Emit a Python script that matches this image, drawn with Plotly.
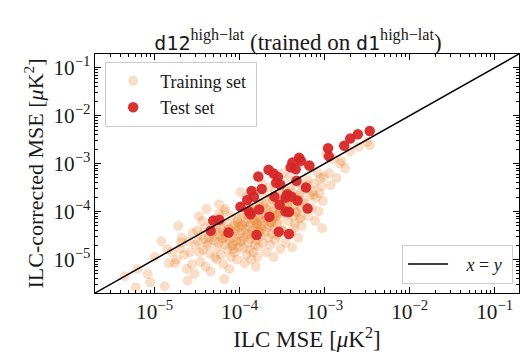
import plotly.graph_objects as go

# MSE values, stored as log10 exponents
train_ilc_log10 = [
    -5.2, -5.08, -5.05, -4.88, -4.83, -4.76, -4.85, -4.61, -4.18, -5.0, -4.92, -4.8, -5.35, -5.22,
    -4.72, -4.55, -4.68, -4.6, -4.52, -4.7, -4.58, -4.65, -4.74, -4.56, -4.62, -4.5, -4.69, -4.53,
    -4.48, -4.33, -4.41, -4.27, -4.45, -4.36, -4.3, -4.49, -4.38, -4.26,
    -4.43, -4.35, -4.29, -4.46, -4.4, -4.32, -4.28, -4.44, -4.37, -4.31,
    -4.47, -4.34, -4.39, -4.27, -4.42,
    -4.24, -4.18, -4.1, -4.03, -4.21, -4.15, -4.07, -4.01, -4.22, -4.13,
    -4.05, -4.19, -4.11, -4.02, -4.23, -4.16, -4.08, -4.2, -4.12, -4.04,
    -4.25, -4.17, -4.09, -4.01, -4.14, -4.06, -4.22, -4.1, -4.03, -4.19,
    -4.12, -4.05, -4.24, -4.15, -4.08, -4.02, -4.2, -4.13, -4.07, -4.17,
    -3.99, -3.92, -3.84, -3.77, -3.96, -3.88, -3.8, -3.95, -3.86, -3.78,
    -3.98, -3.9, -3.82, -3.76, -3.94, -3.87, -3.79, -3.97, -3.89, -3.81,
    -3.93, -3.85, -3.77, -3.99, -3.91, -3.83, -3.76, -3.95, -3.87, -3.8,
    -3.98, -3.9, -3.82, -3.78, -3.96, -3.88, -3.84, -3.92, -3.79, -3.86,
    -3.94, -3.81, -3.97, -3.89, -3.77, -3.91, -3.83, -3.99, -3.85, -3.8,
    -3.74, -3.66, -3.58, -3.51, -3.7, -3.62, -3.55, -3.72, -3.64, -3.53,
    -3.68, -3.6, -3.52, -3.73, -3.65, -3.57, -3.69, -3.61, -3.54, -3.71,
    -3.63, -3.56, -3.75, -3.67, -3.59, -3.5, -3.7, -3.62, -3.55, -3.66,
    -3.58, -3.73, -3.64, -3.52, -3.69, -3.6, -3.57, -3.72, -3.65, -3.54,
    -3.68, -3.61, -3.74, -3.56, -3.63,
    -3.49, -3.42, -3.34, -3.27, -3.46, -3.38, -3.3, -3.47, -3.4, -3.32,
    -3.26, -3.44, -3.36, -3.28, -3.48, -3.41, -3.33, -3.45, -3.37, -3.29,
    -3.43, -3.35, -3.27, -3.5, -3.39, -3.31, -3.46, -3.38, -3.3, -3.44,
    -3.34, -3.41, -3.28, -3.47, -3.36,
    -3.24, -3.16, -3.08, -3.01, -3.2, -3.12, -3.04, -3.22, -3.14, -3.06,
    -3.18, -3.1, -3.02, -3.23, -3.15, -3.07, -3.19, -3.11, -3.03, -3.21,
    -3.13, -3.05,
    -2.98, -2.9, -2.82, -2.76, -2.95, -2.86, -2.93, -2.8,
    -2.7, -2.6, -2.5, -2.47,
]
train_corr_log10 = [
    -5.2, -5.31, -5.48, -5.56, -5.08, -5.08, -4.79, -5.44, -5.41, -4.95, -4.62, -4.85, -5.35, -5.58,
    -4.3, -4.45, -4.55, -4.62, -4.7, -4.78, -4.85, -4.9, -5.0, -5.1, -5.2, -4.4, -4.65, -5.3,
    -4.1, -4.25, -4.35, -4.4, -4.5, -4.55, -4.6, -4.62, -4.7, -4.75,
    -4.8, -4.88, -4.95, -5.05, -5.15, -4.45, -4.3, -4.2, -4.65, -4.52,
    -4.85, -5.25, -3.95, -5.0, -4.58,
    -3.85, -4.0, -4.1, -4.15, -4.2, -4.25, -4.3, -4.32, -4.35, -4.38,
    -4.4, -4.42, -4.45, -4.48, -4.5, -4.52, -4.55, -4.58, -4.6, -4.62,
    -4.65, -4.7, -4.72, -4.75, -4.8, -4.85, -4.9, -4.95, -5.0, -5.1,
    -5.2, -4.28, -4.05, -4.44, -4.68, -4.22, -4.56, -4.36, -4.78, -3.95,
    -3.6, -3.7, -3.8, -3.85, -3.9, -3.95, -4.0, -4.03, -4.06, -4.1,
    -4.12, -4.15, -4.18, -4.2, -4.22, -4.25, -4.27, -4.3, -4.32, -4.35,
    -4.37, -4.4, -4.42, -4.45, -4.47, -4.5, -4.52, -4.55, -4.58, -4.6,
    -4.63, -4.66, -4.7, -4.73, -4.76, -4.8, -4.85, -4.9, -4.95, -5.0,
    -5.08, -5.15, -4.28, -4.08, -4.38, -4.48, -4.18, -4.62, -3.98, -4.24,
    -3.4, -3.5, -3.58, -3.65, -3.7, -3.75, -3.8, -3.85, -3.88, -3.92,
    -3.95, -3.98, -4.0, -4.03, -4.06, -4.1, -4.12, -4.15, -4.18, -4.2,
    -4.23, -4.26, -4.3, -4.33, -4.36, -4.4, -4.43, -4.47, -4.5, -4.55,
    -4.6, -4.65, -4.7, -4.78, -4.85, -4.95, -4.08, -3.9, -4.28, -4.45,
    -4.14, -3.72, -4.38, -4.02, -4.22,
    -3.2, -3.3, -3.4, -3.48, -3.55, -3.6, -3.65, -3.7, -3.75, -3.78,
    -3.82, -3.85, -3.88, -3.92, -3.95, -3.98, -4.02, -4.05, -4.1, -4.15,
    -4.2, -4.25, -4.3, -4.38, -4.45, -4.55, -4.65, -4.75, -3.68, -3.9,
    -4.0, -3.52, -4.12, -3.8, -4.35,
    -3.0, -3.1, -3.2, -3.28, -3.35, -3.42, -3.48, -3.52, -3.58, -3.62,
    -3.68, -3.72, -3.78, -3.85, -3.92, -4.0, -4.1, -4.2, -4.35, -3.45,
    -3.65, -3.3,
    -2.8, -2.9, -3.0, -3.1, -3.2, -3.3, -3.45, -2.95,
    -2.75, -2.65, -2.55, -2.62,
]

test_ilc_log10 = [
    -2.47, -2.61, -2.70, -2.77, -2.96, -2.95, -3.30, -3.28, -3.38, -3.40,
    -3.34, -3.18, -3.66, -3.60, -3.55, -3.78, -3.57, -3.52, -3.33, -3.22,
    -3.74, -3.86, -3.83, -3.91, -3.59, -3.44, -3.39, -3.46, -3.32, -3.53,
    -3.99, -3.89, -3.87, -3.77, -3.46, -3.42, -3.20, -3.65, -4.31, -4.24,
    -4.34, -4.13, -3.80, -3.54, -3.42,
]
test_corr_log10 = [
    -2.32, -2.39, -2.48, -2.63, -2.68, -2.85, -2.88, -2.94, -2.98, -3.08,
    -3.12, -3.04, -3.13, -3.21, -3.28, -3.27, -3.40, -3.44, -3.36, -3.50,
    -3.53, -3.57, -3.69, -3.76, -3.69, -3.64, -3.69, -3.71, -3.77, -3.86,
    -3.90, -4.00, -4.06, -3.96, -4.00, -4.01, -3.94, -4.11, -4.19, -4.17,
    -4.40, -4.44, -4.49, -4.42, -4.47,
]

diag_vals = [1e-7, 1.0]

train_x = [10 ** v for v in train_ilc_log10]
train_y = [10 ** v for v in train_corr_log10]
test_x = [10 ** v for v in test_ilc_log10]
test_y = [10 ** v for v in test_corr_log10]

serif = "Liberation Serif"
mono = "DejaVu Sans Mono"
ink = "#1a1a1a"
pad = "&nbsp;"


def tt(s):
    return f"<span style='font-family:\"{mono}\";font-size:20px'>{s}</span>"


def rm(s):
    return f"<span style='font-family:\"{serif}\"'>{s}</span>"


fig = go.Figure()

fig.add_trace(go.Scatter(
    x=train_x, y=train_y, mode="markers", name="Training set" + pad,
    marker=dict(size=10, color="rgba(232,122,30,0.24)", line=dict(width=0)),
    legend="legend",
))
fig.add_trace(go.Scatter(
    x=test_x, y=test_y, mode="markers", name="Test set",
    marker=dict(size=10.5, color="rgba(214,39,40,0.95)", line=dict(width=0)),
    legend="legend",
))
fig.add_trace(go.Scatter(
    x=diag_vals, y=diag_vals, mode="lines",
    name=pad * 3 + "<i>x</i> = <i>y</i>" + pad,
    line=dict(color="black", width=1.5),
    legend="legend2",
))

axis_common = dict(
    type="log",
    range=[-5.70, -0.715],
    dtick=1,
    exponentformat="power",
    showgrid=False,
    zeroline=False,
    showline=True,
    linecolor="black",
    linewidth=1.3,
    mirror="allticks",
    ticks="inside",
    ticklen=6,
    tickwidth=1,
    tickcolor="black",
    tickfont=dict(family=serif, size=17, color=ink),
    minor=dict(ticks="inside", ticklen=3, tickcolor="black", dtick="D1", showgrid=False),
)

fig.update_layout(
    width=532,
    height=354,
    margin=dict(l=87, r=21, t=46, b=69),
    plot_bgcolor="white",
    paper_bgcolor="white",
    font=dict(family=serif, color=ink),
    title=dict(
        text=(tt("d12") + rm("<sup>high−lat</sup> (trained on ")
              + tt("d1") + rm("<sup>high−lat</sup>)")),
        x=0.545, xanchor="center", y=0.905, yanchor="middle",
        font=dict(family=serif, size=23, color=ink),
    ),
    xaxis=dict(axis_common, title=dict(text="ILC MSE [<i>μ</i>K<sup>2</sup>]",
                                       font=dict(family=serif, size=23), standoff=3)),
    yaxis=dict(axis_common, title=dict(text="ILC-corrected MSE [<i>μ</i>K<sup>2</sup>]",
                                       font=dict(family=serif, size=22), standoff=3)),
    legend=dict(
        x=0.024, y=0.968, xanchor="left", yanchor="top",
        bgcolor="rgba(255,255,255,0.8)", bordercolor="#cccccc", borderwidth=1,
        font=dict(family=serif, size=18, color=ink),
        itemwidth=44,
    ),
    legend2=dict(
        x=0.986, y=0.038, xanchor="right", yanchor="bottom",
        bgcolor="rgba(255,255,255,0.8)", bordercolor="#cccccc", borderwidth=1,
        font=dict(family=serif, size=18, color=ink),
        itemwidth=40,
    ),
)

fig.write_html("out.html")
